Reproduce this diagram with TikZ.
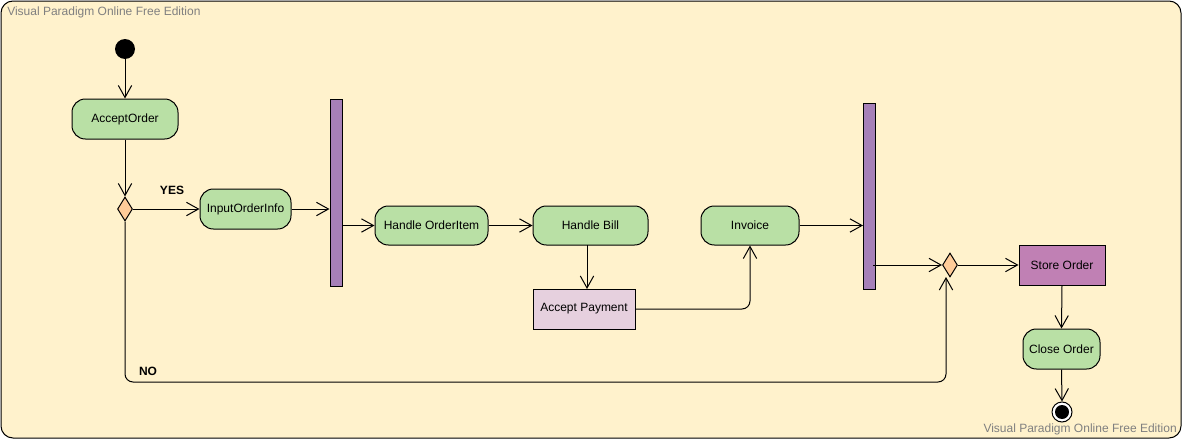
\documentclass[tikz,border=0pt]{standalone}
\usepackage{fontspec}
\setmainfont{Liberation Sans}
\usetikzlibrary{arrows.meta,shapes.geometric}
\definecolor{bgc}{HTML}{FFF2CC}
\definecolor{greenc}{HTML}{B9E0A5}
\definecolor{barc}{HTML}{A680B8}
\definecolor{diac}{HTML}{FFCC99}
\definecolor{payc}{HTML}{E6D0DE}
\definecolor{storec}{HTML}{C080B4}
\definecolor{wmc}{HTML}{808080}
\begin{document}
\begin{tikzpicture}[x=0.75pt,y=-0.75pt,
  font=\fontsize{9pt}{11pt}\selectfont,
  sz/.style 2 args={minimum width=#1*0.75pt, minimum height=#2*0.75pt},
  act/.style={draw, fill=greenc, rounded corners=10pt, line width=0.75pt, inner sep=0pt},
  sq/.style={draw, line width=0.75pt, inner sep=0pt},
  bar/.style={draw, fill=barc, line width=0.75pt, inner sep=0pt},
  dec/.style={draw, fill=diac, diamond, line width=0.75pt, inner sep=0pt, sz={15}{24}},
  arr/.style={line width=0.75pt, -{Straight Barb[length=9pt,width=10pt,line width=0.75pt]}},
  lbl/.style={font=\fontsize{9pt}{11pt}\selectfont\bfseries},
  wm/.style={text=wmc, font=\fontsize{9pt}{11pt}\selectfont, inner sep=0pt}
]
\useasboundingbox (0,0) rectangle (1182,439);
\draw[fill=bgc, line width=0.75pt, rounded corners=9pt] (1,1) rectangle (1181,438);
\node[wm, anchor=west] (wm1) at (7,12) {Visual Paradigm Online Free Edition};
\node[wm, anchor=east] (wm2) at (1177,429) {Visual Paradigm Online Free Edition};

\node[circle, fill=black, sz={20}{20}, inner sep=0pt] (start) at (125,49) {};
\node[act, sz={106}{40}] (accept) at (125,119) {AcceptOrder};
\node[dec] (d1) at (125,209) {};
\node[act, sz={91}{40}] (input) at (245.5,209) {InputOrderInfo};
\node[bar, sz={12}{187}] (bar1) at (336,192.5) {};
\node[act, sz={113}{39}] (hitem) at (431.5,225.5) {Handle OrderItem};
\node[act, sz={115}{39}] (hbill) at (590.5,225.5) {Handle Bill};
\node[sq, fill=payc, sz={102}{40}] (pay) at (584,309) {Accept Payment};
\node[act, sz={98}{39}] (inv) at (750,225.5) {Invoice};
\node[bar, sz={12}{186}] (bar2) at (869.5,196) {};
\node[dec] (d2) at (950,265) {};
\node[sq, fill=storec, sz={86}{40}] (store) at (1062,265) {Store Order};
\node[act, sz={77}{40}] (close) at (1061.5,349) {Close Order};
\node[circle, draw, fill=white, line width=0.75pt, sz={20}{20}, inner sep=0pt] (end) at (1062,412) {};
\fill (end.center) circle (7);

\draw[arr] (start) -- (accept);
\draw[arr] (accept) -- (d1);
\draw[arr] (d1.east) -- (input.west);
\node[lbl] (yes) at (172,190) {YES};
\draw[arr] (input.east) -- (input.east -| bar1.west);
\draw[arr] (bar1.east |- hitem) -- (hitem.west);
\draw[arr] (hitem.east) -- (hbill.west);
\draw[arr] (587,245) -- (587,289);
\draw[arr, rounded corners=6pt] (pay.east) -| (inv.south);
\draw[arr] (inv.east) -- (inv.east -| bar2.west);
\draw[arr] (873,265) -- (d2.west);
\draw[arr] (d2.east) -- (store.west);
\draw[arr] (store.south) -- (close.north);
\draw[arr] (close.south) -- (end.north);
\draw[arr, rounded corners=6pt] (d1.south) -- (125,382) -- (946,382) -- (946,277);
\node[lbl] (no) at (148,371) {NO};
\end{tikzpicture}
\end{document}
